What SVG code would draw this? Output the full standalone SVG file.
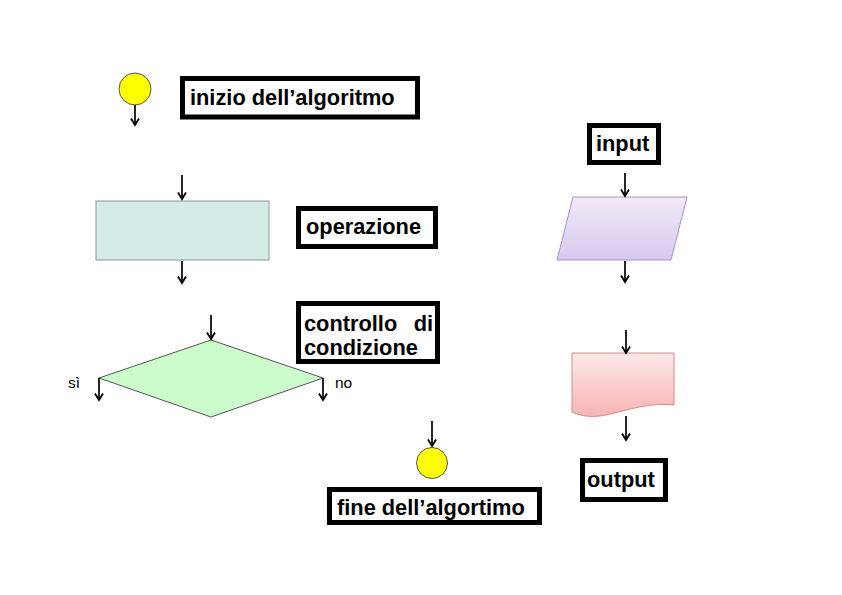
<svg xmlns="http://www.w3.org/2000/svg" width="842" height="595" viewBox="0 0 842 595">
<defs>
<marker id="arr" markerWidth="10" markerHeight="10" refX="8.5" refY="5" orient="auto" markerUnits="userSpaceOnUse" viewBox="0 0 10 10">
<path d="M2,1 L8.5,5 L2,9" fill="none" stroke="#000" stroke-width="1.8"/>
</marker>
<linearGradient id="gPar" x1="0" y1="0" x2="0" y2="1">
<stop offset="0" stop-color="#f1eaf8"/><stop offset="1" stop-color="#d8c8ee"/>
</linearGradient>
<linearGradient id="gDoc" x1="0" y1="0" x2="0" y2="1">
<stop offset="0" stop-color="#fde9e9"/><stop offset="1" stop-color="#f8b4b4"/>
</linearGradient>
</defs>
<style>
.lbl{fill:#fff;stroke:#000;stroke-width:5}
.t{font-family:"Liberation Sans",Arial,sans-serif;font-weight:bold;font-size:21.8px;fill:#000}
.s{font-family:"Liberation Sans",Arial,sans-serif;font-size:15.5px;fill:#000}
.c{stroke:#000;stroke-width:1.7;fill:none;marker-end:url(#arr)}
.term{fill:#ffff00;stroke:#555;stroke-width:1}
</style>
<rect width="842" height="595" fill="#fff"/>

<g id="start"><circle class="term" cx="135" cy="89" r="16"/></g>
<g id="label-inizio"><rect class="lbl" x="182.5" y="78.5" width="235" height="38.5"/><text class="t" x="190" y="105">inizio dell’algoritmo</text></g>

<g id="operazione-shape"><rect x="96" y="201" width="173" height="59" fill="#d3ece8" stroke="#8a9a98" stroke-width="1"/></g>
<g id="label-operazione"><rect class="lbl" x="298.5" y="208.5" width="137" height="38"/><text class="t" x="306" y="234">operazione</text></g>

<g id="decision"><polygon points="211,340 99,378 211,417 323,378" fill="#ccfccc" stroke="#555" stroke-width="1"/>
<text class="s" x="68" y="388">sì</text><text class="s" x="335" y="388">no</text></g>
<g id="label-controllo"><rect class="lbl" x="298.5" y="303.5" width="139" height="58"/><text class="t" x="304" y="331">controllo</text><text class="t" x="433" y="331" text-anchor="end">di</text><text class="t" x="304" y="355">condizione</text></g>

<g id="label-input"><rect class="lbl" x="589.5" y="125.5" width="69" height="37"/><text class="t" x="596" y="151">input</text></g>
<g id="input-shape"><polygon points="573,197 687,197 671,260 557,260" fill="url(#gPar)" stroke="#a793c6" stroke-width="1"/></g>

<g id="output-shape"><path d="M572,353 H674 V405 C650,402 628,410 610,414 C595,418 583,417 572,412 Z" fill="url(#gDoc)" stroke="#d88" stroke-width="1"/></g>
<g id="label-output"><rect class="lbl" x="582.5" y="460.5" width="83" height="39"/><text class="t" x="587" y="487">output</text></g>

<g id="end"><circle class="term" cx="432" cy="463" r="15.5"/></g>
<g id="label-fine"><rect class="lbl" x="329.5" y="489.5" width="210" height="33"/><text class="t" x="337" y="515">fine dell’algortimo</text></g>

<g id="connectors">
<line class="c" x1="135" y1="105" x2="135" y2="125"/>
<line class="c" x1="182" y1="175" x2="182" y2="199"/>
<line class="c" x1="182" y1="261" x2="182" y2="283"/>
<line class="c" x1="211" y1="315" x2="211" y2="339"/>
<line class="c" x1="99" y1="378" x2="99" y2="400"/>
<line class="c" x1="323" y1="378" x2="323" y2="400"/>
<line class="c" x1="625" y1="173" x2="625" y2="196"/>
<line class="c" x1="625" y1="261" x2="625" y2="282"/>
<line class="c" x1="626" y1="330" x2="626" y2="353"/>
<line class="c" x1="626" y1="416" x2="626" y2="440"/>
<line class="c" x1="432" y1="421" x2="432" y2="446"/>
</g>
</svg>
